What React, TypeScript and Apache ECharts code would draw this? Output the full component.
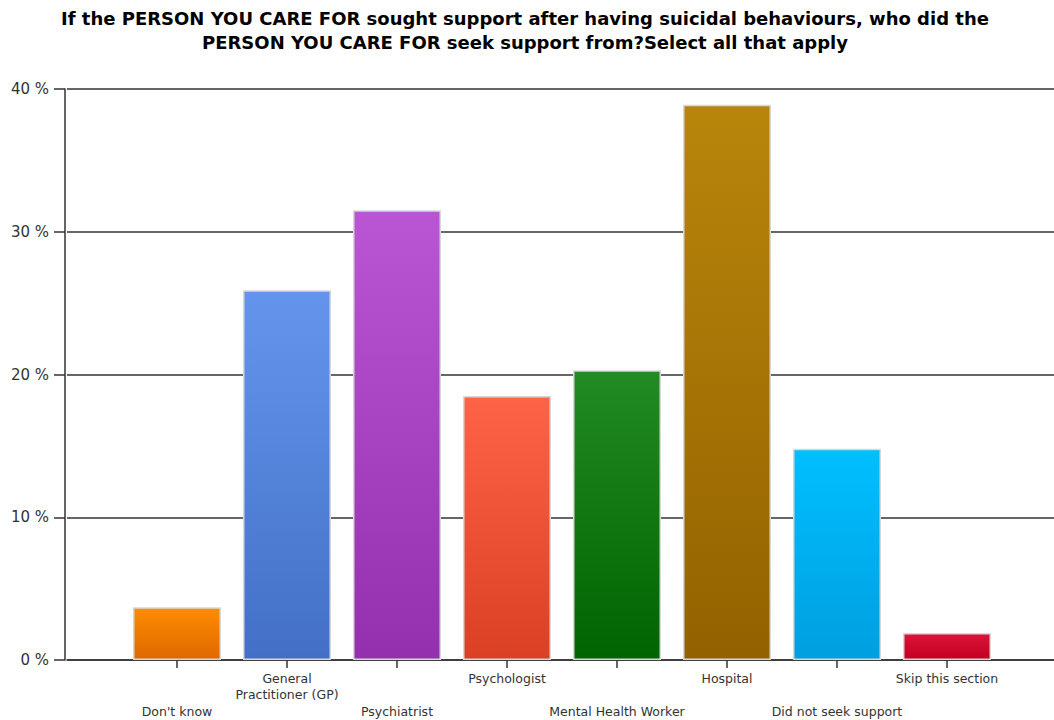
import React, { useEffect, useRef } from "react";
import * as echarts from "echarts";

const titleLines = [
  "If the PERSON YOU CARE FOR sought support after having suicidal behaviours, who did the",
  "PERSON YOU CARE FOR seek support from?Select all that apply",
];
const categories = [
  "Don't know",
  "General\nPractitioner (GP)",
  "Psychiatrist",
  "Psychologist",
  "Mental Health Worker",
  "Hospital",
  "Did not seek support",
  "Skip this section",
];
const values = [3.7, 25.9, 31.5, 18.5, 20.3, 38.9, 14.8, 1.9];
const topColors = ["#ff8c00", "#6495ed", "#ba55d3", "#ff6347", "#228b22", "#b8860b", "#00bfff", "#dc143c"];
const bottomColors = ["#de6800", "#4370c6", "#9430ae", "#da4024", "#006400", "#936200", "#009fdf", "#c20020"];

export default function App() {
  const ref = useRef<HTMLDivElement>(null);
  useEffect(() => {
    const chart = echarts.init(ref.current!, undefined, { renderer: "svg" });
    const axisData = ["", ...categories, ""];
    const seriesData: any[] = ["-"];
    values.forEach((v, i) => {
      seriesData.push({
        value: v,
        itemStyle: {
          color: new echarts.graphic.LinearGradient(0, 0, 0, 1, [
            { offset: 0, color: topColors[i] },
            { offset: 1, color: bottomColors[i] },
          ]),
        },
      });
    });
    seriesData.push("-");
    chart.setOption({
      animation: false,
      graphic: [
        {
          type: "text",
          x: 525,
          y: 6,
          style: {
            text: titleLines.join("\n"),
            align: "center",
            verticalAlign: "top",
            fontFamily: "DejaVu Sans",
            fontWeight: "bold",
            fontSize: 18,
            lineHeight: 24,
            fill: "#000",
          },
        },
      ],
      grid: { left: 67, right: 2, top: 89, bottom: 60, containLabel: false },
      xAxis: {
        type: "category",
        data: axisData,
        boundaryGap: false,
        axisLine: { lineStyle: { color: "#333", width: 1.5 } },
        axisTick: {
          length: 8,
          lineStyle: { color: "#333", width: 1.5 },
          interval: (idx: number) => idx > 0 && idx < axisData.length - 1,
        },
        axisLabel: {
          interval: 0,
          margin: 10,
          fontFamily: "DejaVu Sans",
          fontSize: 12.5,
          lineHeight: 16.5,
          color: "#333",
          formatter: (val: string, idx: number) => {
            if (!val) return "";
            return idx % 2 === 1 ? "\n\n" + val : val;
          },
        },
        splitLine: { show: false },
      },
      yAxis: {
        type: "value",
        min: 0,
        max: 40,
        interval: 10,
        offset: 2,
        axisLine: { show: true, lineStyle: { color: "#333", width: 1.5 } },
        axisTick: { show: true, length: 11, lineStyle: { color: "#333", width: 1.5 } },
        axisLabel: {
          fontFamily: "DejaVu Sans",
          fontSize: 15,
          color: "#333",
          margin: 16,
          formatter: (v: number) => v + " %",
        },
        splitLine: { show: true, lineStyle: { color: "#333", width: 1.5 } },
      },
      series: [
        {
          type: "bar",
          data: seriesData,
          barWidth: 88,
          itemStyle: { borderColor: "#d8d8d8", borderWidth: 1.5 },
        },
      ],
    });
    return () => chart.dispose();
  }, []);
  return (
    <div style={{ width: 1054, height: 720, position: "absolute", left: 0, top: 0, overflow: "hidden" }}>
      <div ref={ref} style={{ width: 1060, height: 720 }} />
    </div>
  );
}
